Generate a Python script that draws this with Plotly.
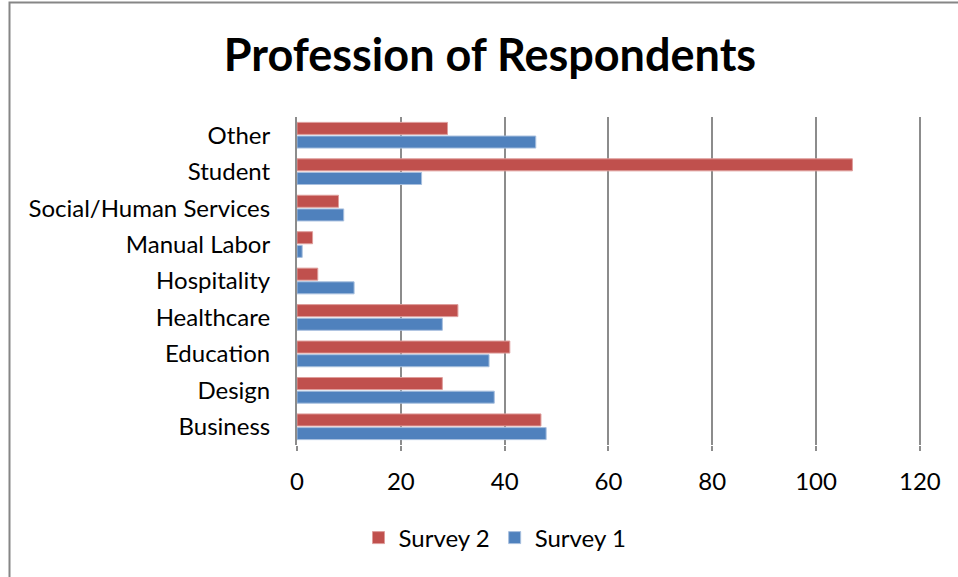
import plotly.graph_objects as go

# Professions, listed bottom to top on the category axis
professions = ["Business", "Design", "Education", "Healthcare", "Hospitality",
               "Manual Labor", "Social/Human Services", "Student", "Other"]
survey1 = [48, 38, 37, 28, 11, 1, 9, 24, 46]
survey2 = [47, 28, 41, 31, 4, 3, 8, 107, 29]
x_ticks = [0, 20, 40, 60, 80, 100, 120]

RED = "#C0504D"
BLUE = "#4F81BD"
GRID = "#8C8C8C"
FONT = "Lato, Carlito, Calibri, sans-serif"

W, H = 958, 577
L, R, T, B = 297, 35, 117, 132
pw, ph = W - L - R, H - T - B


def px_x(p):
    return (p - L) / pw


def px_y(p):
    return (H - B - p) / ph


fig = go.Figure()
fig.add_trace(go.Bar(
    y=professions, x=survey1, name="Survey 1", orientation="h",
    marker=dict(color=BLUE, line=dict(color="#A7BFDE", width=1)),
))
fig.add_trace(go.Bar(
    y=professions, x=survey2, name="Survey 2", orientation="h",
    marker=dict(color=RED, line=dict(color="#DE9D9B", width=1)),
))

fig.update_layout(
    width=W, height=H,
    margin=dict(l=L, r=R, t=T, b=B),
    paper_bgcolor="white", plot_bgcolor="white",
    barmode="group", bargap=0.25, bargroupgap=0.12,
    font=dict(family=FONT, size=24, color="black"),
    title=dict(text="<b>Profession of Respondents</b>",
               font=dict(family=FONT, size=45, color="black"),
               x=490 / W, xanchor="center", xref="container",
               y=1 - 55 / H, yanchor="middle", yref="container"),
    xaxis=dict(range=[0, 120.6], tickvals=x_ticks, showgrid=True,
               gridcolor=GRID, gridwidth=2, zeroline=False,
               showline=False, ticks="outside", ticklen=5, tickwidth=2,
               tickcolor=GRID, tickfont=dict(size=24),
               ticklabelstandoff=10, fixedrange=True),
    yaxis=dict(showline=True, linecolor=GRID, linewidth=2,
               showgrid=False, ticks="", ticklabelstandoff=20,
               tickfont=dict(size=24), automargin=False),
    legend=dict(orientation="h", traceorder="reversed",
                x=495 / W, xanchor="center", xref="container",
                y=1 - 538 / H, yanchor="middle", yref="container",
                font=dict(size=24), itemwidth=30),
    showlegend=True,
    shapes=[dict(type="rect", xref="paper", yref="paper",
                 x0=px_x(9.5), x1=px_x(W + 20), y0=px_y(H + 20), y1=px_y(2.5),
                 line=dict(color="#868686", width=2), fillcolor="rgba(0,0,0,0)",
                 layer="below")],
)

fig.write_html("out.html")
